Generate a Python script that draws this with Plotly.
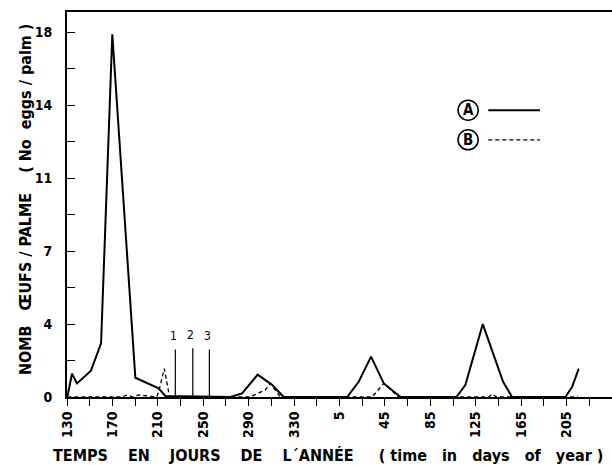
import plotly.graph_objects as go

# --- data (day index runs continuously; 365 added after day 365) ---
days_A = [130.3, 134.4, 138.8, 151.1, 160.0, 169.9, 190.2, 210.7, 216.6, 273.9, 284.2, 297.9,
          310.6, 320.8, 376.7, 386.9, 397.8, 409.0, 423.7, 473.0, 480.9, 496.2, 514.1, 522.0,
          569.0, 574.9, 580.7]
eggs_A = [0.0, 1.15, 0.67, 1.3, 2.65, 17.9, 0.95, 0.43, 0.05, 0.0, 0.18, 1.1,
          0.6, 0.0, 0.0, 0.75, 1.99, 0.67, 0.0, 0.0, 0.6, 3.6, 0.75, 0.0,
          0.0, 0.5, 1.4]

days_B = [130.3, 178.0, 183.0, 188.0, 193.0, 209.0, 210.7, 215.7, 219.5, 221.0, 291.5, 304.7,
          309.1, 317.9, 398.7, 409.0, 421.9, 501.4, 504.6, 508.3, 580.0]
eggs_B = [0.0, 0.0, 0.1, 0.0, 0.1, 0.0, 0.25, 1.4, 0.25, 0.0, 0.0, 0.35,
          0.67, 0.0, 0.0, 0.67, 0.0, 0.0, 0.15, 0.0, 0.0]

marker_days = [225.4, 240.8, 255.4]
marker_tops = [2.35, 2.4, 2.35]
marker_labels = ["1", "2", "3"]

x_tick_vals = [130, 170, 210, 250, 290, 330, 370, 410, 450, 490, 530, 570]
x_tick_text = ["130", "170", "210", "250", "290", "330", "5", "45", "85", "125", "165", "205"]
y_tick_vals = [0, 3.6, 7.2, 10.8, 14.4, 18]
y_tick_text = ["0", "4", "7", "11", "14", "18"]

FONT = "DejaVu Sans Condensed, DejaVu Sans"

fig = go.Figure()
fig.add_trace(go.Scatter(x=days_A, y=eggs_A, mode="lines",
                         line=dict(color="black", width=2), showlegend=False))
fig.add_trace(go.Scatter(x=days_B, y=eggs_B, mode="lines",
                         line=dict(color="black", width=1.3, dash="4px,3px"), showlegend=False))

# vertical markers 1, 2, 3
vx, vy = [], []
for d, t in zip(marker_days, marker_tops):
    vx += [d, d, None]
    vy += [0, t, None]
fig.add_trace(go.Scatter(x=vx, y=vy, mode="lines", line=dict(color="black", width=1.2),
                         showlegend=False))
for d, t, lab in zip(marker_days, marker_tops, marker_labels):
    fig.add_annotation(x=d, y=t + 0.65, text=lab, showarrow=False, xshift=-2,
                       xanchor="center", yanchor="middle",
                       font=dict(family=FONT, size=12, color="black"))

# tick arrays with minor ticks (unlabeled)
xt_vals, xt_text = [], []
for i, v in enumerate(x_tick_vals):
    xt_vals.append(v); xt_text.append(x_tick_text[i])
    xt_vals.append(v + 20); xt_text.append("")
yt_vals, yt_text = [], []
for i, v in enumerate(y_tick_vals):
    yt_vals.append(v); yt_text.append(y_tick_text[i])
    if i < len(y_tick_vals) - 1:
        yt_vals.append(v + 1.8); yt_text.append("")

tickfont = dict(family=FONT, size=14, weight="bold")
fig.update_layout(
    width=612, height=465,
    margin=dict(l=67, r=0, t=12, b=68),
    paper_bgcolor="white", plot_bgcolor="white",
    font=dict(family=FONT, color="black"),
    xaxis=dict(range=[130, 610], tickmode="array", tickvals=xt_vals, ticktext=xt_text,
               tickangle=-90, ticks="outside", ticklen=7, tickwidth=1.2, tickcolor="black",
               showline=True, linecolor="black", linewidth=2, mirror=True,
               showgrid=False, zeroline=False, tickfont=tickfont),
    yaxis=dict(range=[0, 19], tickmode="array", tickvals=yt_vals, ticktext=yt_text,
               ticks="inside", ticklen=8, tickwidth=1.2, tickcolor="black",
               showline=True, linecolor="black", linewidth=2, ticklabelstandoff=10,
               showgrid=False, zeroline=False, tickfont=tickfont),
)

# axis titles
fig.add_annotation(xref="paper", yref="paper", x=0.479, y=-0.153, xanchor="center",
                   yanchor="middle",
                   text="TEMPS    EN    JOURS    DE    L´ANNÉE     ( time   in   days   of   year )",
                   showarrow=False, font=dict(family=FONT, size=16, color="black", weight="bold"))
fig.add_annotation(xref="paper", yref="paper", x=-0.075, y=0.512, xanchor="center",
                   yanchor="middle",
                   text="NOMB   ŒUFS / PALME    ( No  eggs / palm )", textangle=-90,
                   showarrow=False, font=dict(family=FONT, size=16, color="black", weight="bold"))

# legend (circled letters + line samples)
legend_items = [("A", 0.745, dict(color="black", width=2)),
                ("B", 0.668, dict(color="black", width=1.3, dash="4px,3px"))]
cx, rx, ry = 0.736, 0.0185, 0.026
for lab, yy, ln in legend_items:
    fig.add_shape(type="circle", xref="paper", yref="paper",
                  x0=cx - rx, x1=cx + rx, y0=yy - ry, y1=yy + ry,
                  line=dict(color="black", width=1.5))
    fig.add_annotation(xref="paper", yref="paper", x=cx, y=yy, text=lab, showarrow=False,
                       xanchor="center", yanchor="middle",
                       font=dict(family=FONT, size=15, color="black", weight="bold"))
    fig.add_shape(type="line", xref="paper", yref="paper", x0=0.773, x1=0.868, y0=yy, y1=yy,
                  line=ln)

fig.write_html("out.html")
